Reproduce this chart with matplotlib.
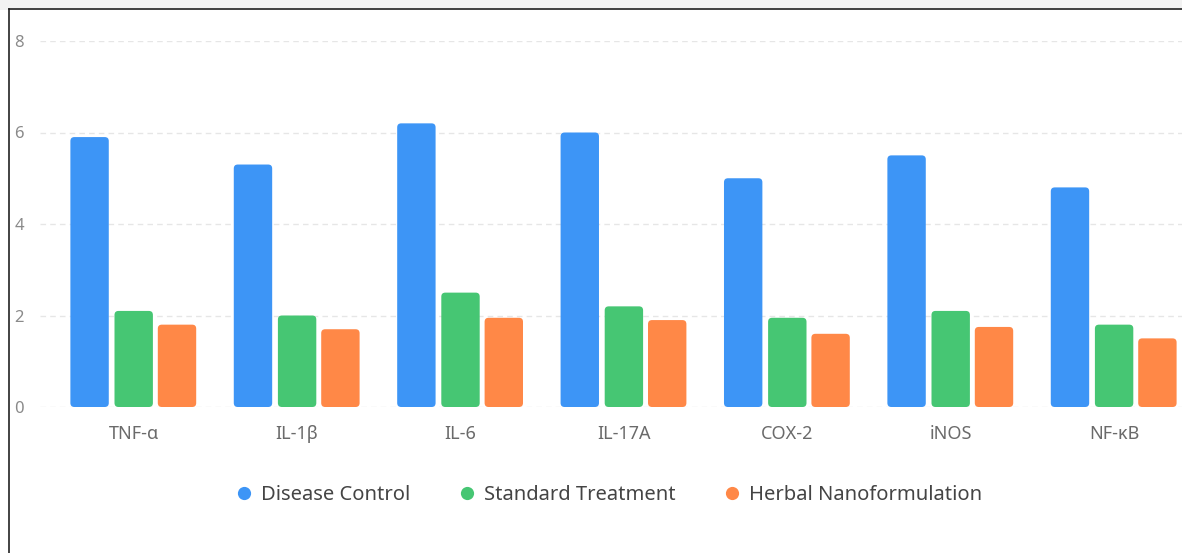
import matplotlib
matplotlib.use("Agg")
import matplotlib.pyplot as plt
from matplotlib.patches import FancyBboxPatch, Rectangle
from matplotlib.lines import Line2D
import numpy as np

categories = ["TNF-\u03b1", "IL-1\u03b2", "IL-6", "IL-17A", "COX-2", "iNOS", "NF-\u03baB"]
disease_control = [5.9, 5.3, 6.2, 6.0, 5.0, 5.5, 4.8]
standard_treatment = [2.1, 2.0, 2.5, 2.2, 1.95, 2.1, 1.8]
herbal_nano = [1.8, 1.7, 1.95, 1.9, 1.6, 1.75, 1.5]
series_names = ["Disease Control", "Standard Treatment", "Herbal Nanoformulation"]
colors = ["#3d95f6", "#46c673", "#ff8847"]
yticks = [0, 2, 4, 6, 8]

plt.rcParams['font.family'] = ['Noto Sans', 'DejaVu Sans']

W, H = 1182, 553
fig = plt.figure(figsize=(W / 100, H / 100), dpi=100)

# axes geometry in pixels
left_px, right_px = 40, 1199
bottom_px, top_px = 407, 41
ax = fig.add_axes([left_px / W, (H - bottom_px) / H, (right_px - left_px) / W, (bottom_px - top_px) / H])
band = 163.4
x0_data = -0.5 - (52 - left_px) / band
ax.set_xlim(x0_data, x0_data + (right_px - left_px) / band)
ax.set_ylim(0, 8)

for s in ax.spines.values():
    s.set_visible(False)
ax.set_yticks(yticks)
ax.set_yticklabels([str(t) for t in yticks], color="#8a8a8a", fontsize=12)
ax.tick_params(axis="y", length=0, pad=11.5)
ax.set_xticks(np.arange(len(categories)))
ax.set_xticklabels(categories, color="#6a6a6a", fontsize=13)
ax.tick_params(axis="x", length=0, pad=13)
ax.grid(axis="y", color="#e6e6e6", linestyle=(0, (4, 3)), linewidth=1)
ax.set_axisbelow(True)

x = np.arange(len(categories))
offsets = [-0.27, 0.0, 0.265]
width = 0.235
all_series = [disease_control, standard_treatment, herbal_nano]

# pixel scale for rounded corners
xpp = 1 / band
ypp = 8 / (bottom_px - top_px)
r_px = 4
for vals, off, c in zip(all_series, offsets, colors):
    bars = ax.bar(x + off, vals, width, color=c, alpha=0)
    for b in bars:
        bx, by, bw, bh = b.get_x(), b.get_y(), b.get_width(), b.get_height()
        p = FancyBboxPatch((bx, by), bw, bh,
                           boxstyle=f"round,pad=0,rounding_size={r_px * xpp}",
                           mutation_aspect=ypp / xpp,
                           facecolor=c, edgecolor="none", zorder=3)
        ax.add_patch(p)

handles = [Line2D([0], [0], marker="o", linestyle="none", markersize=9.5,
                  markerfacecolor=c, markeredgecolor="none") for c in colors]
fig.legend(handles, series_names, loc="center", bbox_to_anchor=(608 / W, (H - 495) / H),
           ncol=3, frameon=False, fontsize=14.5, handlelength=1.0, handletextpad=0.35,
           columnspacing=2.3, labelcolor="#444444")

# outer frame (left + top border)
fig.add_artist(Rectangle((0, (H - 9.5) / H), 1, 9.5 / H, transform=fig.transFigure,
                         facecolor="#f2f2f2", edgecolor="none"))
fig.add_artist(Line2D([8.5 / W, 8.5 / W], [0, (H - 9) / H], transform=fig.transFigure,
                      color="#222222", linewidth=1.2))
fig.add_artist(Line2D([8.5 / W, 1], [(H - 9) / H, (H - 9) / H], transform=fig.transFigure,
                      color="#222222", linewidth=1.2))

fig.savefig("out.png", dpi=100)
